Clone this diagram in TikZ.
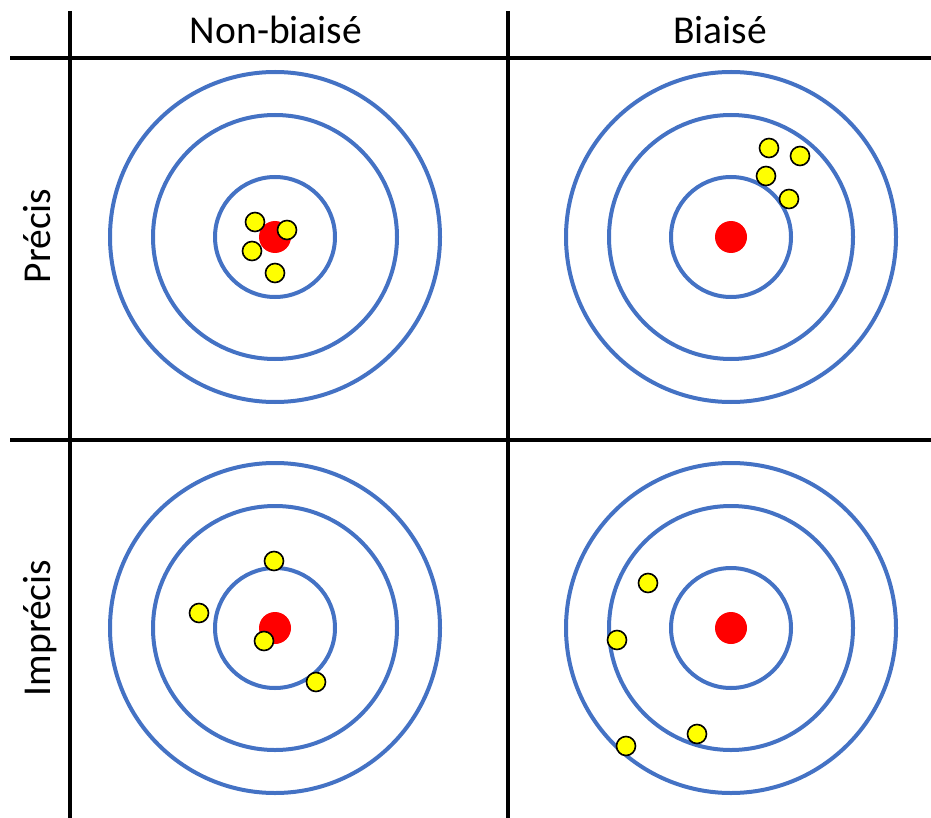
\documentclass[tikz,border=0pt]{standalone}
\usepackage{fontspec}
\setmainfont{Carlito}
\definecolor{ringblue}{HTML}{4472C4}
\definecolor{hitred}{HTML}{FF0000}
\definecolor{hityellow}{HTML}{FFFF00}
\begin{document}
\begin{tikzpicture}[x=1pt,y=-1pt,
  gridline/.style={line width=4.5pt,black},
  ring/.style={draw=ringblue,line width=4pt},
  bull/.style={fill=hitred},
  hit/.style={fill=hityellow,draw=black,line width=1.6pt},
  header/.style={font=\fontsize{39.5}{44}\selectfont,inner sep=0pt,anchor=base}]
\useasboundingbox (0,0) rectangle (931,818);
% grid
\draw[gridline] (70,11) -- (70,818);
\draw[gridline] (508,11) -- (508,818);
\draw[gridline] (10,58) -- (931,58);
\draw[gridline] (10,440) -- (931,440);
% headers
\node[header] (h1) at (276,44) {Non-biaisé};
\node[header] (h2) at (720,44) {Biaisé};
\node[header,rotate=90] (r1) at (50,236) {Précis};
\node[header,rotate=90] (r2) at (50,628) {Imprécis};
% targets
\foreach \cx/\cy in {275/237, 731/237, 275/628, 731/628}{
  \draw[ring] (\cx,\cy) circle[radius=165];
  \draw[ring] (\cx,\cy) circle[radius=122];
  \draw[ring] (\cx,\cy) circle[radius=60];
  \fill[bull] (\cx,\cy) circle[radius=16];
}
% hits
\foreach \hx/\hy in {255/222, 287/230, 252/251, 275/273,
                     769/148, 800/156, 766/176, 789/199,
                     274/561, 199/613, 264/641, 316/682,
                     648/583, 617/640, 697/734, 626/746}{
  \draw[hit] (\hx,\hy) circle[radius=9.5];
}
\end{tikzpicture}
\end{document}
